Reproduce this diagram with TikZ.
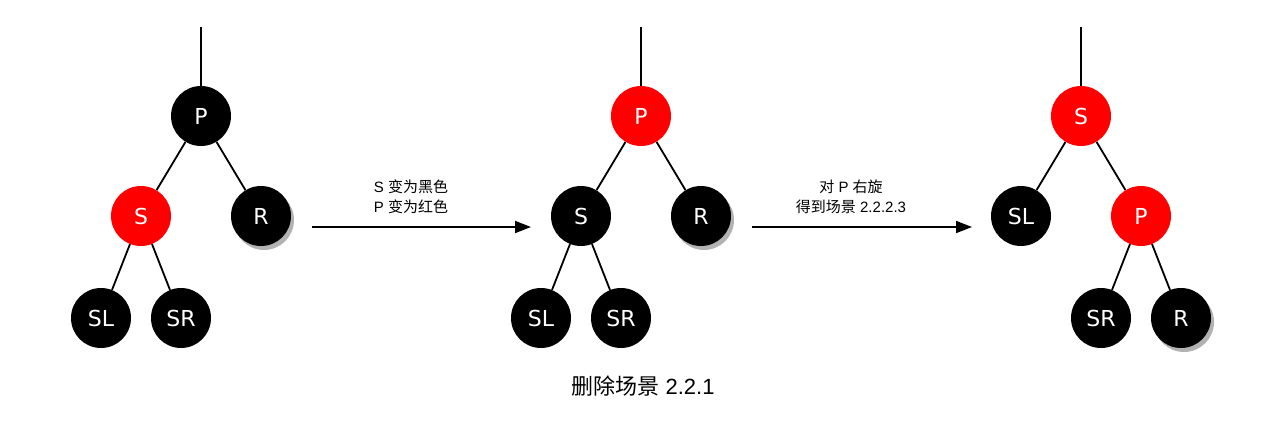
\documentclass[tikz,border=0pt]{standalone}
\usepackage{fontspec}
\setmainfont{Liberation Sans}
\newfontfamily\cjk{Noto Sans CJK SC}
\newfontfamily\nodefont{DejaVu Sans}
\usetikzlibrary{arrows.meta,shadows}
\definecolor{rbred}{HTML}{FF0000}
\begin{document}
\begin{tikzpicture}[x=1pt,y=-1pt,
  rbnode/.style={circle,minimum size=60pt,inner sep=0pt,text=white,font=\nodefont\fontsize{22}{22}\selectfont},
  blk/.style={rbnode,fill=black},
  rnode/.style={rbnode,fill=rbred},
  shad/.style={drop shadow={shadow xshift=3pt,shadow yshift=-4pt,fill=black,opacity=0.3}},
  edge/.style={line width=1.8pt},
  arr/.style={line width=1.8pt,-{Triangle[length=16pt,width=12pt]}},
  lbl/.style={align=center,font=\fontsize{15}{20}\selectfont},
  captext/.style={font=\fontsize{22}{24}\selectfont}]
\path[use as bounding box] (0,0) rectangle (1280,424);
% tree 1
\coordinate (t1) at (201,27);
\node[blk] (p1) at (201,116) {P};
\node[rnode] (s1) at (141,216) {S};
\node[blk,shad] (r1) at (261,216) {R};
\node[blk] (sl1) at (101,318) {SL};
\node[blk] (sr1) at (181,318) {SR};
\draw[edge] (t1) -- (p1);
\draw[edge] (p1) -- (s1);
\draw[edge] (p1) -- (r1);
\draw[edge] (s1) -- (sl1);
\draw[edge] (s1) -- (sr1);
% tree 2
\coordinate (t2) at (641,27);
\node[rnode] (p2) at (641,116) {P};
\node[blk] (s2) at (581,216) {S};
\node[blk,shad] (r2) at (701,216) {R};
\node[blk] (sl2) at (541,318) {SL};
\node[blk] (sr2) at (621,318) {SR};
\draw[edge] (t2) -- (p2);
\draw[edge] (p2) -- (s2);
\draw[edge] (p2) -- (r2);
\draw[edge] (s2) -- (sl2);
\draw[edge] (s2) -- (sr2);
% tree 3
\coordinate (t3) at (1081,27);
\node[rnode] (s3) at (1081,116) {S};
\node[blk] (sl3) at (1021,216) {SL};
\node[rnode] (p3) at (1141,216) {P};
\node[blk] (sr3) at (1101,318) {SR};
\node[blk,shad] (r3) at (1181,318) {R};
\draw[edge] (t3) -- (s3);
\draw[edge] (s3) -- (sl3);
\draw[edge] (s3) -- (p3);
\draw[edge] (p3) -- (sr3);
\draw[edge] (p3) -- (r3);
% arrows
\coordinate (a1s) at (312,227);
\coordinate (a1e) at (531,227);
\coordinate (a2s) at (752,227);
\coordinate (a2e) at (972,227);
\draw[arr] (a1s) -- (a1e);
\draw[arr] (a2s) -- (a2e);
\node[lbl] (l1) at (411,197) {S {\cjk 变为黑色}\\P {\cjk 变为红色}};
\node[lbl] (l2) at (851,197) {{\cjk 对} P {\cjk 右旋}\\{\cjk 得到场景} 2.2.2.3};
\node[captext] (c) at (643,386) {{\cjk 删除场景} 2.2.1};
\end{tikzpicture}
\end{document}
